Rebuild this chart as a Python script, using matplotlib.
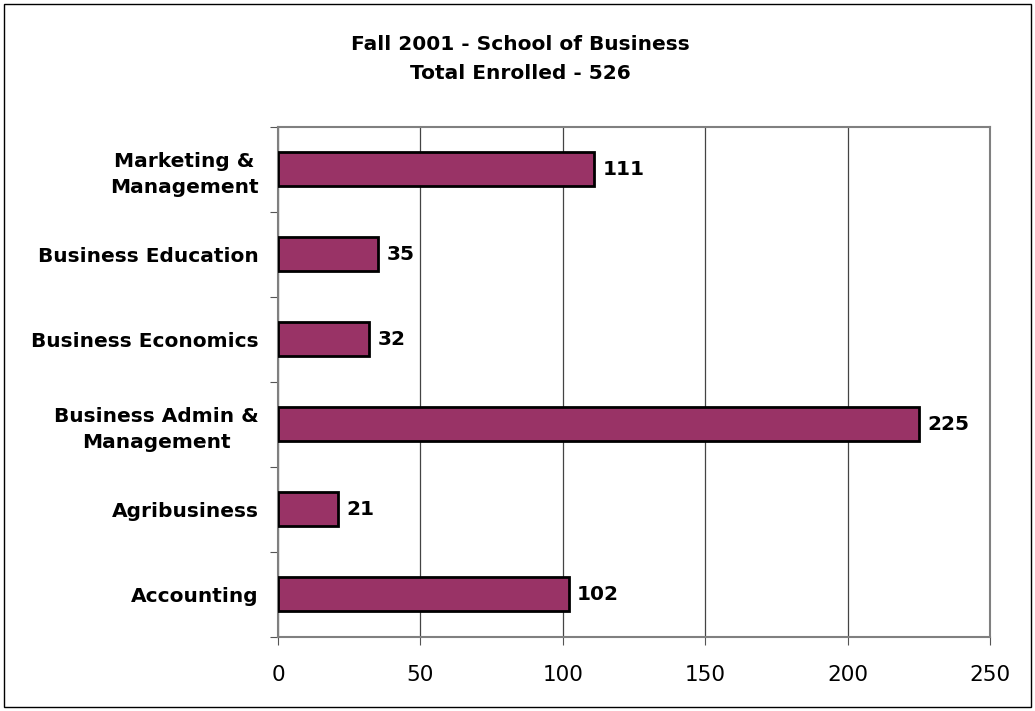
import matplotlib.pyplot as plt
from matplotlib.patches import Rectangle
import numpy as np

programs = ['Accounting', 'Agribusiness', 'Business Admin &\nManagement',
            'Business Economics', 'Business Education', 'Marketing &\nManagement']
enrolled = [102, 21, 225, 32, 35, 111]

fig = plt.figure(figsize=(10.35, 7.11), dpi=100)
ax = fig.add_axes([0.2686, 0.1041, 0.688, 0.7173])

# page border
fig.patches.append(Rectangle((0.004, 0.006), 0.992, 0.988, transform=fig.transFigure,
                             fill=False, edgecolor='black', linewidth=1))

y = np.arange(len(programs))
ax.barh(y, enrolled, height=0.4, color='#993366', edgecolor='black', linewidth=2, zorder=3)

for yi, v in zip(y, enrolled):
    ax.text(v + 3, yi, str(v), va='center', ha='left', fontsize=14.5, fontweight='bold', zorder=4)

ax.set_xlim(0, 250)
ax.set_ylim(-0.5, len(programs) - 0.5)
ax.set_xticks(np.arange(0, 251, 50))
ax.tick_params(axis='x', labelsize=15.5, length=6, pad=14, color='#555555')
ax.xaxis.grid(True, color='#444444', linewidth=0.9, zorder=0)

ax.set_yticks(np.arange(-0.5, len(programs), 1.0))
ax.set_yticklabels([])
ax.tick_params(axis='y', which='major', length=6, color='#555555')
ax.set_yticks(y, minor=True)
ax.set_yticklabels(programs, minor=True, fontsize=14.5, fontweight='bold',
                   ha='right', multialignment='center', linespacing=1.45)
ax.tick_params(axis='y', which='minor', length=0, pad=14)

for s in ax.spines.values():
    s.set_color('#808080')
    s.set_linewidth(1.5)

fig.text(0.503, 0.937, 'Fall 2001 - School of Business',
         ha='center', va='center', fontsize=14.5, fontweight='bold')
fig.text(0.503, 0.897, 'Total Enrolled - 526',
         ha='center', va='center', fontsize=14.5, fontweight='bold')

fig.savefig('out.png', dpi=100)
